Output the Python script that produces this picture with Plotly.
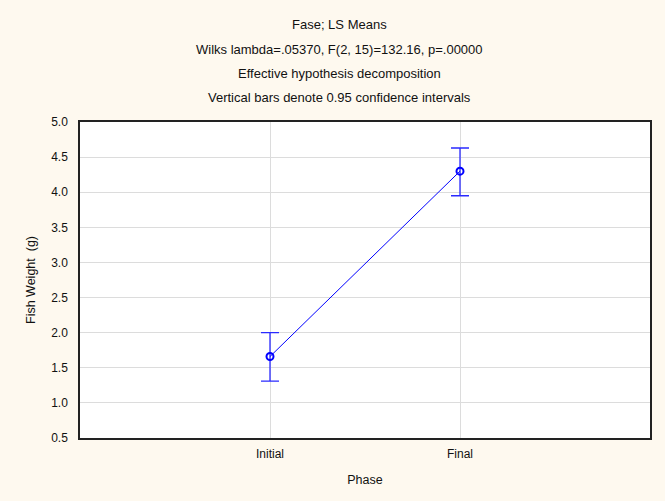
import plotly.graph_objects as go

# LS means of fish weight by phase, with 0.95 confidence limits
phases = ["Initial", "Final"]
means = [1.66, 4.30]
ci_lower = [1.31, 3.95]
ci_upper = [2.00, 4.63]

title_lines = [
    "Fase; LS Means",
    "Wilks lambda=.05370, F(2, 15)=132.16, p=.00000",
    "Effective hypothesis decomposition",
    "Vertical bars denote 0.95 confidence intervals",
]
y_ticks = [0.5, 1.0, 1.5, 2.0, 2.5, 3.0, 3.5, 4.0, 4.5, 5.0]

W, H = 665, 501
L, R, T, B = 80, 15, 122, 63
FONT = "Liberation Sans, Arial, sans-serif"

err_plus = [u - m for u, m in zip(ci_upper, means)]
err_minus = [m - l for m, l in zip(means, ci_lower)]

fig = go.Figure()
fig.add_trace(go.Scatter(
    x=list(range(len(phases))),
    y=means,
    mode="lines+markers",
    line=dict(color="#0000FF", width=1),
    marker=dict(symbol="circle-open", size=7, color="#0000FF",
                line=dict(color="#0000FF", width=2)),
    error_y=dict(type="data", symmetric=False, array=err_plus,
                 arrayminus=err_minus, color="#2A2AFF", thickness=1.3,
                 width=9),
    showlegend=False,
))

plot_h = H - T - B
def py(pixel_y):
    return (H - B - pixel_y) / plot_h

def px(pixel_x):
    return (pixel_x - L) / (W - L - R)

annotations = []
for i, line in enumerate(title_lines):
    annotations.append(dict(
        text=line, x=px(339), y=py(25 + 24.3 * i), xref="paper", yref="paper",
        xanchor="center", yanchor="middle", showarrow=False,
        font=dict(family=FONT, size=13, color="#111111"),
    ))

fig.update_layout(
    width=W, height=H,
    margin=dict(l=L, r=R, t=T, b=B),
    paper_bgcolor="#FEF9EF",
    plot_bgcolor="#FFFFFF",
    font=dict(family=FONT, size=12, color="#111111"),
    annotations=annotations,
    xaxis=dict(
        range=[-1, 2],
        tickmode="array",
        tickvals=list(range(len(phases))),
        ticktext=phases,
        showgrid=True, gridcolor="#DCDCDC", gridwidth=1,
        showline=True, linecolor="#222222", linewidth=1.5, mirror=True,
        ticks="", zeroline=False, ticklabelstandoff=4,
        title=dict(text="Phase", standoff=15, font=dict(size=12.5)),
        tickfont=dict(size=12),
    ),
    yaxis=dict(
        range=[0.5, 5.0],
        tickmode="array",
        tickvals=y_ticks,
        ticktext=[f"{v:.1f}" for v in y_ticks],
        showgrid=True, gridcolor="#DCDCDC", gridwidth=1,
        showline=True, linecolor="#222222", linewidth=1.5, mirror=True,
        ticks="", zeroline=False, ticklabelstandoff=8,
        title=dict(text="Fish Weight  (g)", standoff=13, font=dict(size=12.5)),
        tickfont=dict(size=12),
    ),
)

fig.write_html("out.html")
